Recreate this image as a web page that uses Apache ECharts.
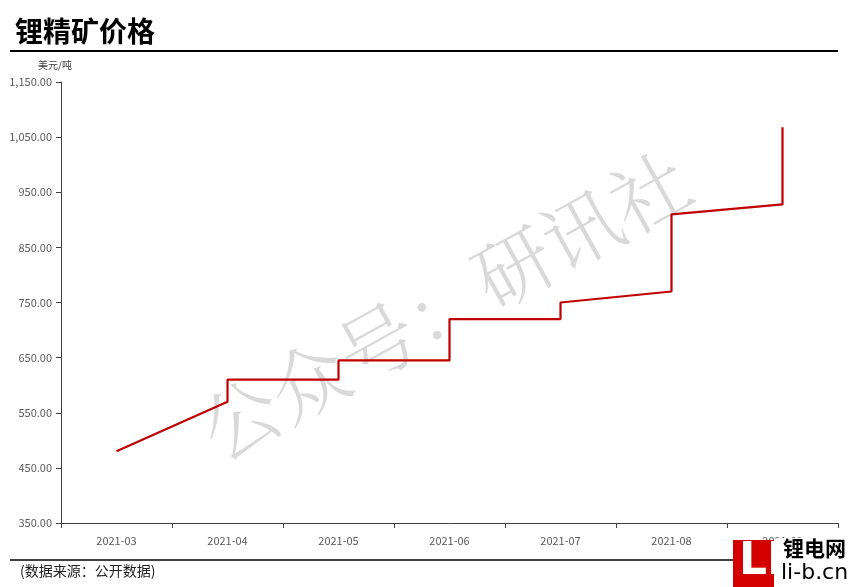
<!DOCTYPE html>
<html><head><meta charset="utf-8">
<script src="https://cdn.jsdelivr.net/npm/echarts@6/dist/echarts.min.js"></script>
<style>html,body{margin:0;padding:0;background:#fff}#c{width:850px;height:587px}</style>
</head><body><div id="c"></div>
<script>
const categories = ['2021-03','2021-04','2021-05','2021-06','2021-07','2021-08','2021-09'];
// each point: [category, value]; two points at one category make the vertical jump
const pointCategories = ['2021-03','2021-04','2021-04','2021-05','2021-05','2021-06','2021-06','2021-07','2021-07','2021-08','2021-08','2021-09','2021-09'];
const pointValues = [480, 570, 610, 610, 645, 645, 720, 720, 750, 770, 910, 928, 1068];
const yMin = 350, yMax = 1150, yStep = 100;

const chart = echarts.init(document.getElementById('c'));
const font = '"Microsoft YaHei","Noto Sans CJK SC",sans-serif';
chart.setOption({
  animation:false,
  textStyle:{fontFamily:font},
  grid:{left:61,right:12,top:82,bottom:64,containLabel:false},
  xAxis:{type:'category',data:categories,boundaryGap:true,
    axisLine:{lineStyle:{color:'#404040',width:1}},
    axisTick:{show:true,alignWithLabel:false,length:5,lineStyle:{color:'#404040'}},
    axisLabel:{color:'#595959',fontSize:11,margin:12,fontFamily:font}},
  yAxis:{type:'value',min:yMin,max:yMax,interval:yStep,
    axisLine:{show:true,lineStyle:{color:'#404040'}},
    axisTick:{show:true,length:5,lineStyle:{color:'#404040'}},
    splitLine:{show:false},
    axisLabel:{color:'#595959',fontSize:11,margin:9,fontFamily:font,
      formatter:v=>v.toLocaleString('en-US',{minimumFractionDigits:2,maximumFractionDigits:2})}},
  series:[{type:'line',data:pointCategories.map((c,i)=>[c,pointValues[i]]),
    showSymbol:false,symbol:'none',lineStyle:{color:'#c00000',width:2.2},z:3}],
  graphic:[
    {type:'text',left:15,top:17,style:{text:'锂精矿价格',fontSize:28,fontWeight:'bold',fill:'#000',fontFamily:font}},
    {type:'line',shape:{x1:10,y1:51,x2:838,y2:51},style:{stroke:'#000',lineWidth:2}},
    {type:'text',left:38,top:60,style:{text:'美元/吨',fontSize:10,fill:'#404040',fontFamily:font}},
    {type:'line',shape:{x1:10,y1:560,x2:838,y2:560},style:{stroke:'#000',lineWidth:1.5}},
    {type:'text',left:20,top:564,style:{text:'(数据来源：公开数据)',fontSize:14,fill:'#222',fontFamily:font}},
    {type:'text',x:445,y:305,rotation:29*Math.PI/180,z:-1,silent:true,
      style:{text:'公众号：研讯社',fontSize:78,fill:'rgba(170,170,170,0.45)',align:'center',verticalAlign:'middle',fontFamily:'"Noto Serif CJK SC","Noto Sans CJK SC",serif',fontWeight:300}},
    {type:'rect',shape:{x:733,y:540,width:41,height:47},style:{fill:'#d40000'},z:20},
    {type:'text',left:739,top:541,z:21,style:{text:'LI',fontSize:44,fontWeight:'bold',fill:'#fff',fontFamily:'"DejaVu Sans",sans-serif'}},
    {type:'rect',shape:{x:776,y:538,width:74,height:49},style:{fill:'#fff'},z:19},
    {type:'text',left:783,top:538,z:21,style:{text:'锂电网',fontSize:21,fontWeight:'bold',fill:'#000',fontFamily:font}},
    {type:'text',left:781,top:562,z:21,style:{text:'li-b.cn',fontSize:22,fill:'#000',fontFamily:'"DejaVu Sans",sans-serif'}}
  ]
});
</script></body></html>
